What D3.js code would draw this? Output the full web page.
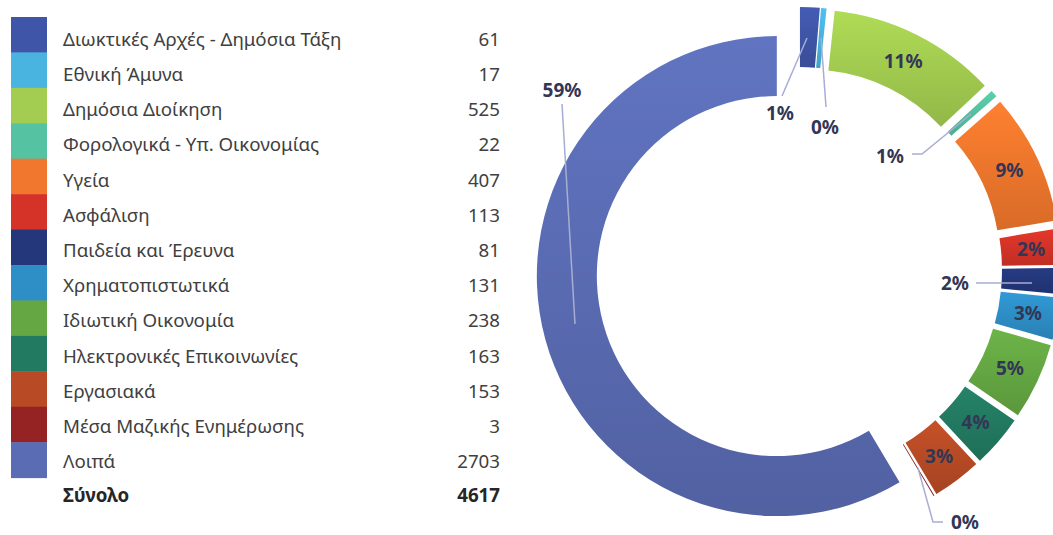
<!DOCTYPE html>
<html>
<head>
<meta charset="utf-8">
<script src="https://cdn.jsdelivr.net/npm/d3@7/dist/d3.min.js"></script>
<style>
  html, body { margin: 0; padding: 0; background: #fff; }
  svg { display: block; }
</style>
</head>
<body>
<svg id="chart" width="1053" height="535"></svg>
<script>
const categories = [
  "Διωκτικές Αρχές - Δημόσια Τάξη",
  "Εθνική Άμυνα",
  "Δημόσια Διοίκηση",
  "Φορολογικά - Υπ. Οικονομίας",
  "Υγεία",
  "Ασφάλιση",
  "Παιδεία και Έρευνα",
  "Χρηματοπιστωτικά",
  "Ιδιωτική Οικονομία",
  "Ηλεκτρονικές Επικοινωνίες",
  "Εργασιακά",
  "Μέσα Μαζικής Ενημέρωσης",
  "Λοιπά"
];
const values = [61, 17, 525, 22, 407, 113, 81, 131, 238, 163, 153, 3, 2703];
const percentLabels = ["1%", "0%", "11%", "1%", "9%", "2%", "2%", "3%", "5%", "4%", "3%", "0%", "59%"];
const colors = ["#3f56a8", "#48b4df", "#a3cd50", "#55c2a1", "#f0772d", "#d63328",
                "#23377a", "#2e8fc7", "#65a843", "#227a61", "#b84b25", "#952324", "#5a6cb4"];
const totalLabel = "Σύνολο";
const totalValue = 4617;

const svg = d3.select("#chart");
const FONT = "'Noto Sans', 'Open Sans', 'DejaVu Sans', sans-serif";
const LFS = 18.7;

// ---------- Legend table ----------
const swatchY = d3.scaleBand().domain(d3.range(categories.length)).range([17, 477.6]).padding(0);
const textY = i => 45.7 + i * 35.2;
const valX = 500;

const leg = svg.append("g");
leg.selectAll("rect.sw").data(categories).join("rect")
  .attr("class", "sw")
  .attr("x", 11).attr("width", 36)
  .attr("y", (d, i) => swatchY(i))
  .attr("height", swatchY.bandwidth() + 0.5)
  .attr("fill", (d, i) => colors[i]);

leg.selectAll("text.cat").data(categories).join("text")
  .attr("class", "cat")
  .attr("x", 63).attr("y", (d, i) => textY(i))
  .attr("font-family", FONT).attr("font-size", LFS)
  .attr("fill", "#404040")
  .text(d => d);

leg.selectAll("text.val").data(values).join("text")
  .attr("class", "val")
  .attr("x", valX).attr("y", (d, i) => textY(i))
  .attr("text-anchor", "end")
  .attr("font-family", FONT).attr("font-size", LFS)
  .attr("fill", "#404040")
  .text(d => d);

leg.append("text")
  .attr("x", 63).attr("y", textY(categories.length) - 1.5)
  .attr("font-family", FONT).attr("font-size", LFS).attr("font-weight", "bold")
  .attr("fill", "#262626").text(totalLabel);
leg.append("text")
  .attr("x", valX).attr("y", textY(categories.length) - 1.5)
  .attr("text-anchor", "end")
  .attr("font-family", FONT).attr("font-size", LFS).attr("font-weight", "bold")
  .attr("fill", "#262626").text(totalValue);

// ---------- Doughnut ----------
const cx = 799, cy = 270, R = 240, r = 180, explode = 23;
const pie = d3.pie().sort(null).value(d => d)(values);
const arc = d3.arc().innerRadius(r).outerRadius(R);

const defs = svg.append("defs");
colors.forEach((c, i) => {
  const g = defs.append("linearGradient").attr("id", "g" + i)
    .attr("x1", 0).attr("y1", 0).attr("x2", 0).attr("y2", 1);
  g.append("stop").attr("offset", "0%").attr("stop-color", d3.color(c).brighter(0.2).formatHex());
  g.append("stop").attr("offset", "100%").attr("stop-color", d3.color(c).darker(0.3).formatHex());
});

const off = d => {
  const a = (d.startAngle + d.endAngle) / 2;
  return [explode * Math.sin(a), -explode * Math.cos(a)];
};

const donut = svg.append("g").attr("transform", `translate(${cx},${cy})`);
donut.selectAll("path").data(pie).join("path")
  .attr("transform", d => { const o = off(d); return `translate(${o[0]},${o[1]})`; })
  .attr("d", arc)
  .attr("fill", (d, i) => `url(#g${i})`);

const labelColor = "#333654";
const lineColor = "#a7add3";
const DFS = 19;

// labels placed outside with leader lines (relative to donut centre)
const outsideIdx = {
  0: { pos: [-19, -157], line: [[8, -232], [-17, -174]] },
  1: { pos: [26, -143], line: [[22, -232], [27, -163]] },
  3: { pos: [91, -114], line: [[172, -156], [123, -116], [113, -116]] },
  6: { pos: [156, 13], line: [[233, 13], [177, 13]] },
  11: { pos: [166, 252], line: [[119, 198], [134, 252], [144, 252]] },
  12: { pos: [-237, -180], line: [[-237, -166], [-224, 54]] }
};

const mid = (R + r) / 2;
pie.forEach((d, i) => {
  if (outsideIdx[i]) return;
  const a = (d.startAngle + d.endAngle) / 2;
  const o = off(d);
  donut.append("text")
    .attr("x", o[0] + mid * Math.sin(a))
    .attr("y", o[1] - mid * Math.cos(a))
    .attr("dy", "0.35em")
    .attr("text-anchor", "middle")
    .attr("font-family", FONT).attr("font-size", DFS).attr("font-weight", "bold")
    .attr("fill", labelColor)
    .text(percentLabels[i]);
});

Object.keys(outsideIdx).forEach(k => {
  const i = +k, L = outsideIdx[k];
  donut.append("path")
    .attr("d", d3.line()(L.line))
    .attr("fill", "none").attr("stroke", lineColor).attr("stroke-width", 1.5);
  donut.append("text")
    .attr("x", L.pos[0]).attr("y", L.pos[1])
    .attr("dy", "0.35em")
    .attr("text-anchor", "middle")
    .attr("font-family", FONT).attr("font-size", DFS).attr("font-weight", "bold")
    .attr("fill", labelColor)
    .text(percentLabels[i]);
});
</script>
</body>
</html>
